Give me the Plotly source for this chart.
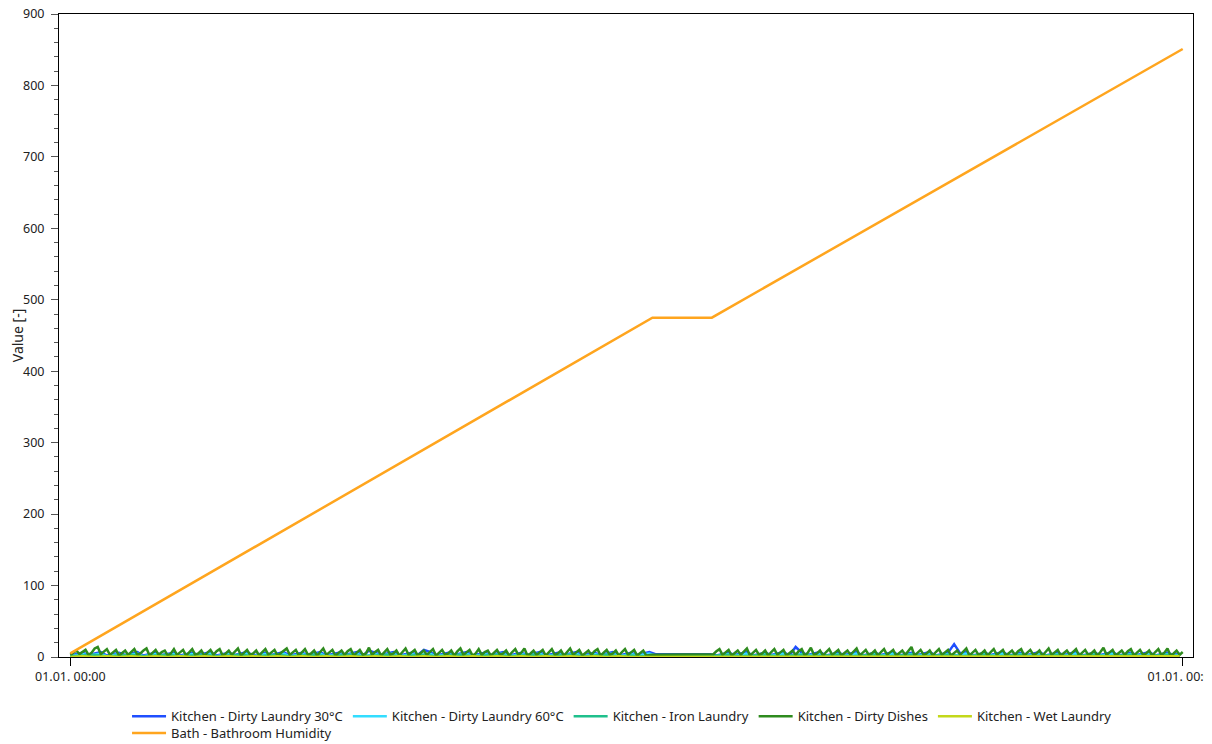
import numpy as np
import plotly.graph_objects as go

# x axis is days since 01.01. 00:00, one year long
tick_days = [0, 365]
tick_labels = ["01.01. 00:00", "01.01. 00:00"]

# Bath - Bathroom Humidity (breakpoints)
bath_days = [0, 191, 210.5, 365]
bath_humidity = [5, 475, 475, 851]

# Kitchen - Dirty Dishes, one value per day
dishes_days = np.arange(0, 366)
dirty_dishes = [
    3, 6, 9, 4, 7, 10, 3, 6, 12, 14, 4, 8, 11, 3, 6, 10, 2, 5, 9, 3,
    7, 11, 3, 5, 9, 12, 2, 6, 10, 3, 7, 9, 2, 5, 11, 3, 6, 10, 2, 7,
    11, 3, 5, 9, 2, 6, 10, 3, 8, 11, 2, 5, 9, 3, 7, 12, 2, 6, 10, 3,
    5, 9, 2, 7, 11, 3, 6, 10, 2, 5, 9, 12, 3, 7, 10, 2, 6, 11, 3, 5,
    9, 2, 7, 12, 3, 6, 10, 2, 5, 9, 3, 8, 11, 2, 6, 10, 3, 5, 13, 3,
    7, 10, 2, 6, 11, 3, 5, 9, 2, 7, 12, 3, 6, 10, 2, 5, 9, 3, 7, 11,
    2, 6, 10, 3, 5, 9, 2, 8, 12, 3, 6, 10, 2, 5, 11, 3, 7, 9, 2, 6,
    10, 3, 5, 9, 2, 7, 11, 3, 6, 12, 2, 5, 9, 3, 7, 10, 2, 6, 11, 3,
    5, 9, 2, 7, 12, 3, 6, 10, 2, 5, 9, 3, 8, 11, 2, 6, 10, 3, 5, 9,
    2, 7, 11, 3, 6, 10, 2, 5, 9, 2, 3,
    3, 3, 3, 3, 3, 3, 3, 3, 3, 3, 3, 3, 3, 3, 3, 3, 3, 3, 3, 3,
    4, 8, 11, 3, 6, 10, 2, 5, 9, 3, 7, 12, 2, 6, 10, 3, 5, 9, 2, 7,
    11, 3, 6, 10, 2, 5, 9, 3, 8, 11, 2, 6, 13, 3, 5, 9, 2, 7, 11, 3,
    6, 10, 2, 5, 9, 3, 7, 12, 2, 6, 10, 3, 5, 9, 2, 7, 11, 3, 6, 10,
    2, 5, 9, 3, 8, 14, 2, 6, 10, 3, 5, 9, 2, 7, 11, 3, 6, 10, 2, 5,
    9, 3, 7, 12, 2, 6, 10, 3, 5, 9, 2, 7, 11, 3, 6, 10, 2, 5, 9, 3,
    8, 11, 2, 6, 10, 3, 5, 9, 2, 7, 12, 3, 6, 10, 2, 5, 9, 3, 7, 11,
    2, 6, 10, 3, 5, 9, 2, 7, 13, 3, 6, 10, 2, 5, 9, 3, 8, 11, 2, 6,
    10, 3, 5, 9, 2, 7, 11, 3, 6, 12, 2, 5, 9, 3, 7, 10, 2, 6, 11, 3,
    5, 9, 2, 7, 10, 3,
]

# Kitchen - Dirty Laundry 30°C / 60°C, one value every two days
laundry_days = np.arange(0, 366, 2)
laundry_30 = [
    2, 4, 6, 3, 5, 7, 2, 4, 6, 3, 5, 7, 2, 4, 6, 3, 5, 6, 2, 4,
    6, 3, 5, 7, 2, 4, 6, 3, 5, 7, 2, 4, 6, 3, 5, 7, 2, 4, 6, 3,
    5, 7, 2, 4, 6, 3, 5, 7, 2, 9, 6, 3, 5, 7, 2, 4, 6, 3, 10, 7,
    2, 4, 6, 3, 5, 7, 2, 4, 6, 3, 5, 7, 2, 4, 6, 3, 5, 7, 2, 4,
    6, 3, 5, 7, 2, 4, 6, 3, 5, 7, 2, 4, 6, 3, 5, 7,
    4, 4, 4, 4, 4, 4, 4, 4, 4, 4,
    2, 4, 6, 3, 5, 7, 2, 4, 6, 3, 5, 7, 2, 14, 6, 3, 5, 7, 2, 4,
    6, 3, 5, 7, 2, 4, 6, 3, 5, 7, 2, 4, 6, 3, 5, 7, 2, 4, 6, 18,
    5, 7, 2, 4, 6, 3, 5, 7, 2, 4, 6, 3, 5, 7, 2, 4, 6, 3, 5, 7,
    2, 4, 6, 3, 5, 7, 2, 4, 6, 3, 5, 7, 2, 4, 6, 3, 5,
]
laundry_60 = [
    1, 3, 4, 2, 3, 5, 1, 3, 4, 2, 3, 5, 1, 3, 4, 2, 3, 4, 1, 3,
    4, 2, 3, 5, 1, 3, 4, 2, 3, 5, 1, 3, 4, 2, 3, 5, 1, 3, 4, 2,
    3, 5, 1, 3, 4, 2, 3, 5, 1, 3, 4, 2, 3, 5, 1, 3, 4, 2, 3, 5,
    1, 3, 4, 2, 3, 5, 1, 3, 4, 2, 3, 5, 1, 3, 4, 2, 3, 5, 1, 3,
    4, 2, 3, 5, 1, 3, 4, 2, 3, 5, 1, 3, 4, 2, 3, 5,
    2, 2, 2, 2, 2, 2, 2, 2, 2, 2,
    1, 3, 4, 2, 3, 5, 1, 3, 4, 2, 3, 5, 1, 3, 4, 2, 3, 5, 1, 3,
    4, 2, 3, 5, 1, 3, 4, 2, 3, 5, 1, 3, 4, 2, 3, 5, 1, 3, 4, 2,
    3, 5, 1, 3, 4, 2, 3, 5, 1, 3, 4, 2, 3, 5, 1, 3, 4, 2, 3, 5,
    1, 3, 4, 2, 3, 5, 1, 3, 4, 2, 3, 5, 1, 3, 4, 2, 3,
]

# Kitchen - Iron Laundry / Wet Laundry, one value every four days
small_days = np.arange(0, 366, 4)
iron_laundry = [
    1, 2, 3, 1, 2, 3, 1, 2, 3, 1, 2, 3, 1, 2, 3, 1, 2, 3, 1, 2,
    3, 1, 2, 3, 1, 2, 3, 1, 2, 3, 1, 2, 3, 1, 2, 3, 1, 2, 3, 1,
    2, 3, 1, 2, 3, 1, 2, 1, 1, 1, 1, 1, 1, 2, 3, 1, 2, 3, 1, 2,
    3, 1, 2, 3, 1, 2, 3, 1, 2, 3, 1, 2, 3, 1, 2, 3, 1, 2, 3, 1,
    2, 3, 1, 2, 3, 1, 2, 3, 1, 2, 3, 1,
]
wet_laundry = [
    0, 1, 0, 1, 0, 1, 0, 1, 0, 1, 0, 1, 0, 1, 0, 1, 0, 1, 0, 1,
    0, 1, 0, 1, 0, 1, 0, 1, 0, 1, 0, 1, 0, 1, 0, 1, 0, 1, 0, 1,
    0, 1, 0, 1, 0, 1, 0, 0, 0, 0, 0, 0, 0, 1, 0, 1, 0, 1, 0, 1,
    0, 1, 0, 1, 0, 1, 0, 1, 0, 1, 0, 1, 0, 1, 0, 1, 0, 1, 0, 1,
    0, 1, 0, 1, 0, 1, 0, 1, 0, 1, 0, 1,
]

series = [
    ("Kitchen - Dirty Laundry 30°C", laundry_days, laundry_30, "#1f4fff", "legend"),
    ("Kitchen - Dirty Laundry 60°C", laundry_days, laundry_60, "#33ddff", "legend"),
    ("Kitchen - Iron Laundry", small_days, iron_laundry, "#1fc08c", "legend"),
    ("Kitchen - Dirty Dishes", dishes_days, dirty_dishes, "#2e8b1e", "legend"),
    ("Kitchen - Wet Laundry", small_days, wet_laundry, "#c3d81a", "legend"),
    ("Bath - Bathroom Humidity", bath_days, bath_humidity, "#ffa51e", "legend2"),
]

fig = go.Figure()
for name, xs, ys, color, leg in series:
    fig.add_scatter(x=xs, y=ys, mode="lines", name=name, legend=leg,
                    line=dict(color=color, width=2.5))

# the page has an 8px body margin, so margins are shifted by 8px
legend_style = dict(orientation="h", xanchor="left", yanchor="top", itemwidth=34,
                    font=dict(size=13), bgcolor="rgba(0,0,0,0)")
fig.update_layout(
    width=1212, height=744,
    margin=dict(l=51, r=27, t=6, b=94.7, autoexpand=False),
    paper_bgcolor="white", plot_bgcolor="white",
    font=dict(family="Noto Sans", size=12, color="#222222"),
    showlegend=True,
    legend=dict(x=0.060, y=-0.069, **legend_style),
    legend2=dict(x=0.060, y=-0.095, **legend_style),
)
fig.update_xaxes(
    range=[-3.71, 368.38], tickvals=tick_days, ticktext=tick_labels,
    automargin=False, ticklabeloverflow="allow", tickfont=dict(size=12.5),
    showline=True, linecolor="black", linewidth=1, mirror=True,
    ticks="outside", ticklen=8, tickcolor="black", showgrid=False, zeroline=False,
)
fig.update_yaxes(
    range=[0, 900], dtick=100, title_text="Value [-]", title_standoff=2,
    automargin=False, ticklabeloverflow="allow", tickfont=dict(size=12.5),
    ticklabelstandoff=4,
    showline=True, linecolor="black", linewidth=1, mirror=True,
    ticks="outside", ticklen=7, tickcolor="#555555", showgrid=False, zeroline=False,
    minor=dict(dtick=20, ticks="outside", ticklen=4, tickcolor="#555555", showgrid=False),
)

fig.write_html("out.html")
